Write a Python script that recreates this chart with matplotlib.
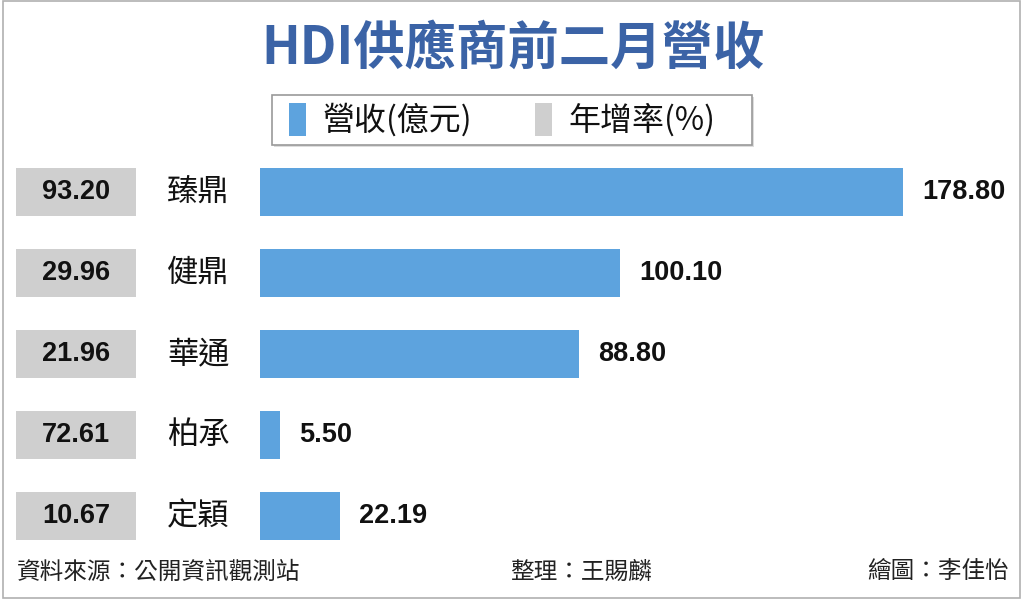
import matplotlib
matplotlib.use("Agg")
import matplotlib.pyplot as plt
from matplotlib.patches import Rectangle
from matplotlib.transforms import blended_transform_factory

plt.rcParams['font.family'] = ['Noto Sans CJK TC', 'DejaVu Sans']

companies = ['臻鼎', '健鼎', '華通', '柏承', '定穎']
revenue = [178.80, 100.10, 88.80, 5.50, 22.19]
growth = [93.20, 29.96, 21.96, 72.61, 10.67]

title = 'HDI供應商前二月營收'
legend_labels = ['營收(億元)', '年增率(%)']
source = '資料來源：公開資訊觀測站'
editor = '整理：王賜麟'
artist = '繪圖：李佳怡'

BLUE = '#5da3de'
GRAY = '#cfcfcf'
TITLE_C = '#3b63a6'

W, H = 1024, 602
fig = plt.figure(figsize=(W / 100, H / 100), dpi=100)
fig.patch.set_facecolor('white')

def fx(px):
    return px / W

def fy(py):
    return 1 - py / H

# frame
fig.patches.append(Rectangle((fx(3), fy(598)), fx(1020) - fx(3), fy(1) - fy(598),
                             transform=fig.transFigure, fill=False,
                             edgecolor='#b0b0b0', lw=1.2))

# bars axes: x from px 260 to 1020, 3.596 px per unit
ax_left, ax_right = 260, 1020
ax_top, ax_bot = 151.5, 556.5
ax = fig.add_axes([fx(ax_left), fy(ax_bot), fx(ax_right - ax_left), (ax_bot - ax_top) / H])
ax.set_xlim(0, (ax_right - ax_left) / 3.596)
n = len(companies)
ax.set_ylim(n - 0.5, -0.5)
ax.axis('off')

ys = list(range(n))
ax.barh(ys, revenue, height=0.6, color=BLUE, edgecolor='none')

num_font = dict(family=['Liberation Sans', 'DejaVu Sans'], fontweight='bold', fontsize=19.5, color='#111111')
for y, v in zip(ys, revenue):
    ax.annotate(f'{v:.2f}', xy=(v, y), xytext=(19, 0), textcoords='offset pixels',
                ha='left', va='center', **num_font)

tr = blended_transform_factory(fig.transFigure, ax.transData)
for y, g, c in zip(ys, growth, companies):
    ax.add_patch(Rectangle((fx(16), y - 0.3), fx(120), 0.6, transform=tr,
                           facecolor=GRAY, edgecolor='none', clip_on=False))
    ax.text(fx(76), y, f'{g:.2f}', transform=tr, ha='center', va='center',
            clip_on=False, **num_font)
    ax.text(fx(167), y, c, transform=tr, ha='left', va='center', fontsize=22.5,
            color='#111111', clip_on=False)

# title
fig.text(fx(513), fy(48), title, ha='center', va='center', fontsize=37,
         fontweight='bold', color=TITLE_C)

# legend box
fig.patches.append(Rectangle((fx(274), fy(147)), fx(480), 50 / H, transform=fig.transFigure,
                             facecolor='#dddddd', edgecolor='none'))
fig.patches.append(Rectangle((fx(272), fy(145)), fx(480), 50 / H, transform=fig.transFigure,
                             facecolor='white', edgecolor='#999999', lw=1.2))
fig.patches.append(Rectangle((fx(289), fy(136)), fx(17), 33 / H, transform=fig.transFigure,
                             facecolor=BLUE, edgecolor='none'))
fig.patches.append(Rectangle((fx(535), fy(136)), fx(17), 33 / H, transform=fig.transFigure,
                             facecolor=GRAY, edgecolor='none'))
fig.text(fx(323), fy(120), legend_labels[0], ha='left', va='center', fontsize=23, color='#111111')
fig.text(fx(568), fy(120), legend_labels[1], ha='left', va='center', fontsize=23, color='#111111')

# footer
foot = dict(fontsize=17, color='#222222', va='center')
fig.text(fx(17), fy(572), source, ha='left', **foot)
fig.text(fx(510), fy(572), editor, ha='left', **foot)
fig.text(fx(1009), fy(572), artist, ha='right', **foot)

fig.savefig('out.png', dpi=100, facecolor='white')
